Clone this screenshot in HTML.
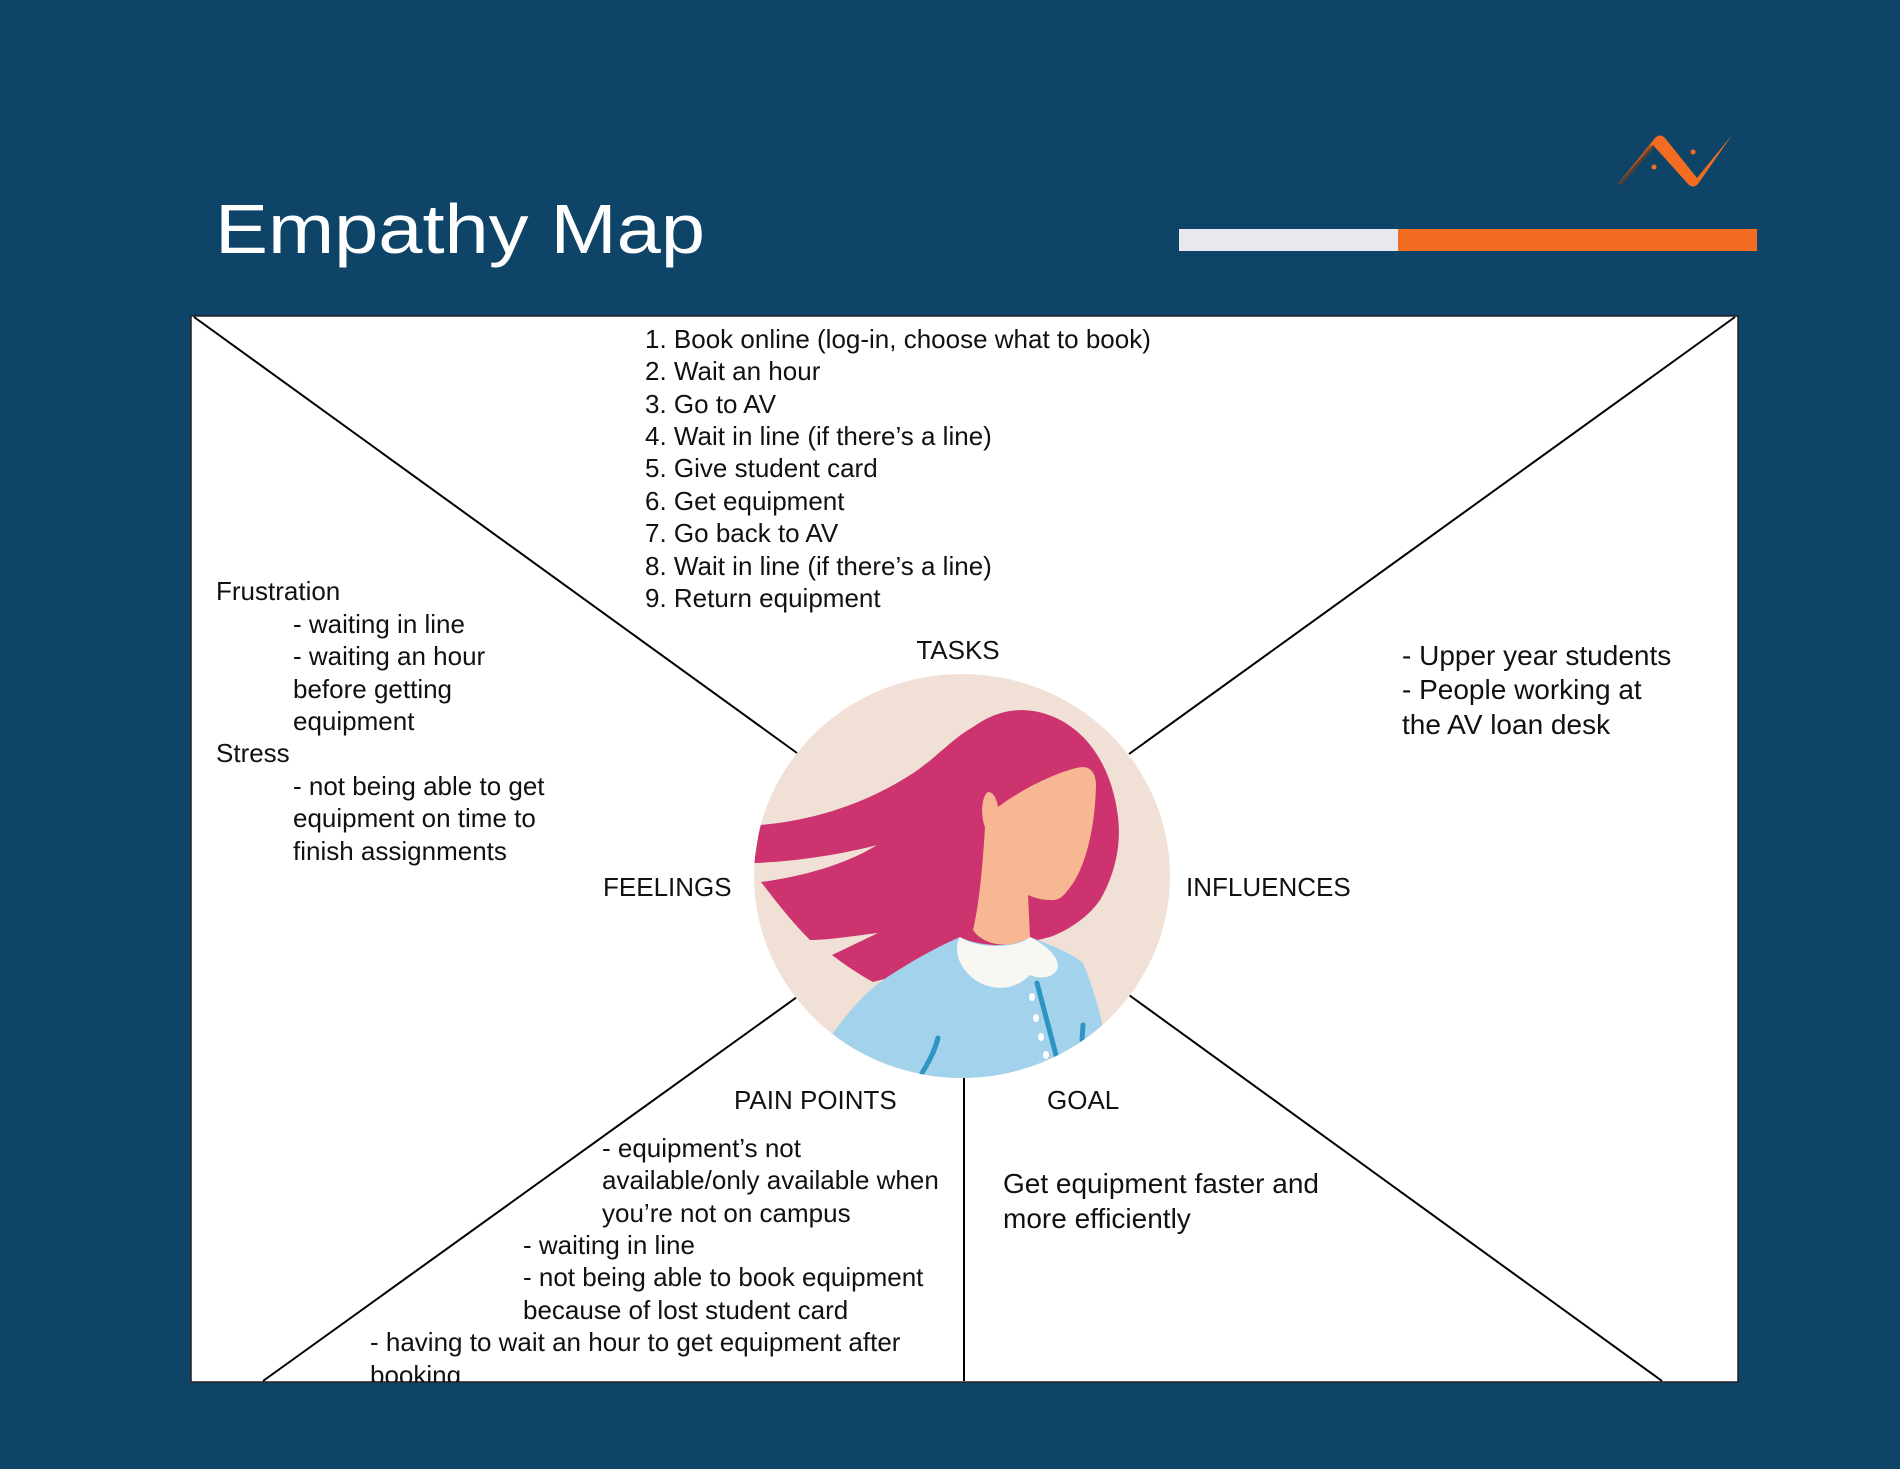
<!DOCTYPE html>
<html><head><meta charset="utf-8"><style>html,body{margin:0;padding:0;background:#0e4468;}svg{display:block}</style></head>
<body>
<svg width="1900" height="1469" viewBox="0 0 1900 1469" xmlns="http://www.w3.org/2000/svg" font-family="Liberation Sans, sans-serif">
<rect width="1900" height="1469" fill="#0e4468"/>
<text x="215" y="253" font-size="70" fill="#fff" textLength="490" lengthAdjust="spacingAndGlyphs">Empathy Map</text>
<rect x="1179" y="229" width="220" height="22" fill="#e8e9ee"/>
<rect x="1398" y="229" width="359" height="22" fill="#f26d21"/>
<path d="M1617,185 L1655,138 Q1660,133 1665,138 L1697,178 L1732,135 L1698,184 Q1693,189 1688,184 L1653,145 Z" fill="#f26d21"/>
<path d="M1617,185 L1650,145 L1654,148 L1622,184 Z" fill="#8a3a14" opacity="0.6"/>
<circle cx="1654" cy="167" r="2.5" fill="#f26d21"/>
<circle cx="1693" cy="152" r="2.5" fill="#f26d21"/>
<defs><clipPath id="box"><rect x="191" y="316" width="1547" height="1066"/></clipPath>
<clipPath id="circ"><ellipse cx="962" cy="876" rx="208" ry="202"/></clipPath></defs>
<rect x="191" y="316" width="1547" height="1066" fill="#fff" stroke="#222" stroke-width="1.5"/>
<g stroke="#000" stroke-width="2">
<line x1="194" y1="317" x2="797" y2="753"/>
<line x1="1735" y1="317" x2="1129" y2="754"/>
<line x1="797" y1="997" x2="263" y2="1381"/>
<line x1="1129" y1="995" x2="1662" y2="1381"/>
<line x1="964" y1="1070" x2="964" y2="1381"/>
</g>
<ellipse cx="962" cy="876" rx="208" ry="202" fill="#f0e0d5"/>
<g clip-path="url(#circ)">
<path d="M760,825 C820,820 870,800 907,777 C935,760 950,740 973,727 C990,715 1005,710 1023,710 C1070,712 1110,750 1118,817 C1122,850 1112,880 1100,900 C1090,915 1070,930 1050,937 L873,982 C860,975 845,965 832,955 L878,933 C860,935 830,940 810,940 C790,920 775,900 761,882 C800,877 845,865 877,845 C840,855 790,862 754,863 Z" fill="#cd346f"/>
<path d="M998,807 C1020,790 1060,770 1082,767 C1092,767 1096,775 1096,785 C1095,830 1085,870 1068,890 C1062,898 1057,901 1050,900 C1042,900 1035,898 1028,895 L1030,937 C1015,948 985,948 973,930 C980,900 983,860 985,827 C980,815 982,795 988,792 C994,792 997,800 998,807 Z" fill="#f6b792"/>
<path d="M833,1033 C850,1010 865,993 883,980 C910,962 935,948 960,937 C975,945 1010,950 1030,937 C1050,945 1070,952 1083,963 C1092,985 1098,1005 1102,1023 L1110,1080 L820,1080 Z" fill="#a3d2ec"/>
<path d="M960,937 C952,950 960,975 985,985 C1005,992 1020,985 1030,975 C1040,980 1055,978 1058,967 C1058,955 1045,945 1030,937 C1015,950 975,948 960,937 Z" fill="#f8f7f2"/>
<path d="M1037,983 L1056,1055" stroke="#2e94c2" stroke-width="5" stroke-linecap="round" fill="none"/>
<path d="M938,1038 C935,1050 930,1060 922,1073" stroke="#2e94c2" stroke-width="5" stroke-linecap="round" fill="none"/>
<path d="M1083,1025 L1082,1040" stroke="#2e94c2" stroke-width="5" stroke-linecap="round" fill="none"/>
<g fill="#fff"><ellipse cx="1032" cy="997" rx="3" ry="4"/><ellipse cx="1036" cy="1018" rx="3" ry="4"/><ellipse cx="1041" cy="1037" rx="3" ry="4"/><ellipse cx="1046" cy="1055" rx="3" ry="4"/></g>
</g>
<g font-size="26" fill="#111" clip-path="url(#box)">
<text x="645" y="348">1. Book online (log-in, choose what to book)</text>
<text x="645" y="380">2. Wait an hour</text>
<text x="645" y="413">3. Go to AV</text>
<text x="645" y="445">4. Wait in line (if there’s a line)</text>
<text x="645" y="477">5. Give student card</text>
<text x="645" y="510">6. Get equipment</text>
<text x="645" y="542">7. Go back to AV</text>
<text x="645" y="575">8. Wait in line (if there’s a line)</text>
<text x="645" y="607">9. Return equipment</text>
<text x="958" y="659" text-anchor="middle">TASKS</text>
<text x="603" y="896">FEELINGS</text>
<text x="1186" y="896">INFLUENCES</text>
<text x="734" y="1109">PAIN POINTS</text>
<text x="1047" y="1109">GOAL</text>
<text x="216" y="600">Frustration</text>
<text x="293" y="633">- waiting in line</text>
<text x="293" y="665">- waiting an hour</text>
<text x="293" y="698">before getting</text>
<text x="293" y="730">equipment</text>
<text x="216" y="762">Stress</text>
<text x="293" y="795">- not being able to get</text>
<text x="293" y="827">equipment on time to</text>
<text x="293" y="860">finish assignments</text>
<g font-size="28">
<text x="1402" y="665">- Upper year students</text>
<text x="1402" y="699">- People working at</text>
<text x="1402" y="734">the AV loan desk</text>
<text x="1003" y="1193">Get equipment faster and</text>
<text x="1003" y="1228">more efficiently</text>
</g>
<text x="602" y="1157">- equipment’s not</text>
<text x="602" y="1189">available/only available when</text>
<text x="602" y="1222">you’re not on campus</text>
<text x="523" y="1254">- waiting in line</text>
<text x="523" y="1286">- not being able to book equipment</text>
<text x="523" y="1319">because of lost student card</text>
<text x="370" y="1351">- having to wait an hour to get equipment after</text>
<text x="370" y="1384">booking</text>
</g>
</svg>
</body></html>
